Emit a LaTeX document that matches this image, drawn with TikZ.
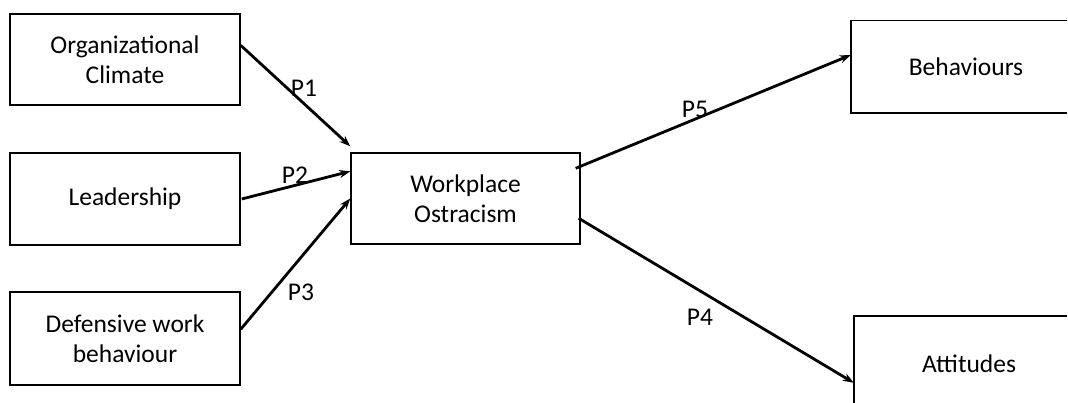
\documentclass[tikz,border=0pt]{standalone}
\usepackage{fontspec}
\setmainfont{Carlito}
\usetikzlibrary{arrows.meta}
\begin{document}
\begin{tikzpicture}[x=1pt,y=-1pt,
  box/.style={draw=black,line width=1.4pt,inner sep=0pt,align=center,
    font=\fontsize{25.5}{30}\selectfont},
  openbox/.style={inner sep=0pt,align=center,font=\fontsize{25.5}{30}\selectfont},
  boxline/.style={draw=black,line width=1.4pt},
  link/.style={line width=2.8pt,-{Stealth[length=11pt,width=8pt]}},
  lbl/.style={font=\fontsize{25.5}{30}\selectfont,inner sep=0pt}]
\useasboundingbox (0,0) rectangle (1068,403);
\node[box,minimum width=230pt,minimum height=91pt] (oc) at (125,59.5) {Organizational\\Climate};
\node[box,minimum width=230pt,minimum height=92pt] (ld) at (125,199) {Leadership};
\node[box,minimum width=230pt,minimum height=93pt] (dw) at (125,338.5) {Defensive work\\behaviour};
\node[box,minimum width=229pt,minimum height=91pt] (wo) at (465.5,198.5) {Workplace\\Ostracism};
\node[openbox,minimum width=230pt,minimum height=92pt] (be) at (966,67) {Behaviours};
\node[openbox,minimum width=230pt,minimum height=96pt] (at) at (969,364) {Attitudes};
\draw[boxline] ([xshift=-14pt]be.north east) -- (be.north west) -- (be.south west) -- ([xshift=-14pt]be.south east);
\draw[boxline] ([xshift=-17pt]at.north east) -- (at.north west) -- ([yshift=8pt]at.south west);
\draw[link] ([yshift=-32pt]oc.north east) -- ([yshift=6pt]wo.north west);
\draw[link] ([xshift=1pt]ld.east) -- ([yshift=-19pt]wo.north west);
\draw[link] ([yshift=-38pt]dw.north east) -- (wo.west);
\draw[link] ([xshift=-5pt,yshift=-16pt]wo.north east) -- ([yshift=12pt]be.west);
\draw[link] ([xshift=-2pt,yshift=-66pt]wo.north east) -- ([yshift=-67pt]at.north west);
\node[lbl] (p1) at (304,88) {P1};
\node[lbl] (p2) at (295,175) {P2};
\node[lbl] (p3) at (301,292) {P3};
\node[lbl] (p5) at (695,109) {P5};
\node[lbl] (p4) at (700,317) {P4};
\end{tikzpicture}
\end{document}
